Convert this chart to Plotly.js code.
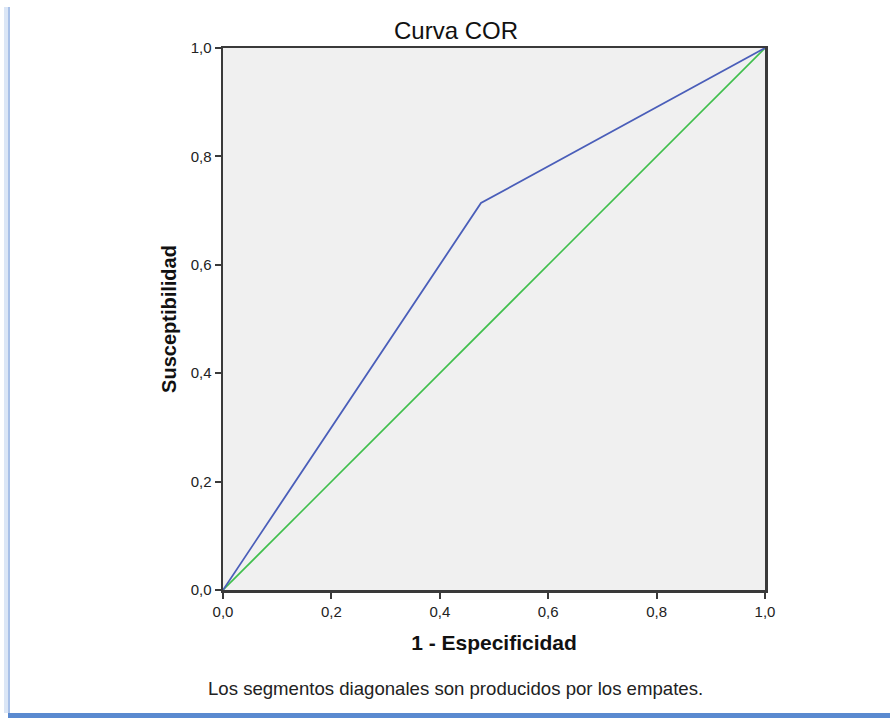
<!DOCTYPE html>
<html>
<head>
<meta charset="utf-8">
<script src="https://cdn.plot.ly/plotly-3.0.1.min.js"></script>
<style>html,body{margin:0;padding:0;background:#fff;}#chart{width:890px;height:718px;}</style>
</head>
<body>
<div id="chart"></div>
<script>
const rocX = [0, 0.476, 1];
const rocY = [0, 0.714, 1];
const refX = [0, 1];
const refY = [0, 1];
const tickVals = [0, 0.2, 0.4, 0.6, 0.8, 1.0];
const tickText = ["0,0", "0,2", "0,4", "0,6", "0,8", "1,0"];
const chartTitle = "Curva COR";
const xTitle = "1 - Especificidad";
const yTitle = "Susceptibilidad";
const footnote = "Los segmentos diagonales son producidos por los empates.";

const FONT = "Liberation Sans, Arial, sans-serif";

const traces = [
  {x: refX, y: refY, mode: "lines", line: {color: "#3fbf4c", width: 1.6}, hoverinfo: "skip"},
  {x: rocX, y: rocY, mode: "lines", line: {color: "#4a5eb9", width: 1.8}, hoverinfo: "skip"}
];

const axisCommon = {
  range: [0, 1], tickvals: tickVals, ticktext: tickText,
  showgrid: false, zeroline: false, showline: true, mirror: true,
  linecolor: "#3a3a3a", linewidth: 2.5, ticks: "outside", ticklen: 6, tickwidth: 2, tickcolor: "#3a3a3a",
  tickfont: {family: FONT, size: 15, color: "#222"}, fixedrange: true
};

// paper coordinate helpers for decorative frame (plot area 223..765 x, 48..590 y)
const px2x = px => (px - 223) / 542;
const px2y = py => (590 - py) / 542;

const layout = {
  width: 890, height: 718,
  margin: {l: 223, r: 125, t: 48, b: 128},
  paper_bgcolor: "#ffffff", plot_bgcolor: "#f0f0f0",
  showlegend: false,
  title: {text: chartTitle, x: 456 / 890, xref: "container", xanchor: "center",
          y: 1 - 31 / 718, yref: "container", yanchor: "middle",
          font: {family: FONT, size: 24, color: "#111"}},
  xaxis: Object.assign({}, axisCommon, {
    title: {text: xTitle, standoff: 17, font: {family: FONT, size: 21, color: "#111", weight: "bold"}}
  }),
  yaxis: Object.assign({}, axisCommon, {
    title: {text: yTitle, standoff: 9, font: {family: FONT, size: 20, color: "#111", weight: "bold"}}
  }),
  annotations: [
    {text: footnote, xref: "paper", yref: "paper", x: px2x(455.5), y: px2y(688), xanchor: "center", yanchor: "middle",
     showarrow: false, font: {family: FONT, size: 18.6, color: "#222"}}
  ],
  shapes: [
    {type: "rect", xref: "paper", yref: "paper", x0: px2x(4), x1: px2x(8), y0: px2y(713), y1: px2y(7),
     fillcolor: "#dbe6f6", line: {width: 0}, layer: "below"},
    {type: "rect", xref: "paper", yref: "paper", x0: px2x(8), x1: px2x(10), y0: px2y(713), y1: px2y(7),
     fillcolor: "#a9c1e8", line: {width: 0}, layer: "below"},
    {type: "rect", xref: "paper", yref: "paper", x0: px2x(8), x1: px2x(890), y0: px2y(718), y1: px2y(713),
     fillcolor: "#5a8ad0", line: {width: 0}, layer: "below"}
  ]
};

Plotly.newPlot("chart", traces, layout, {displayModeBar: false, staticPlot: true});
</script>
</body>
</html>
